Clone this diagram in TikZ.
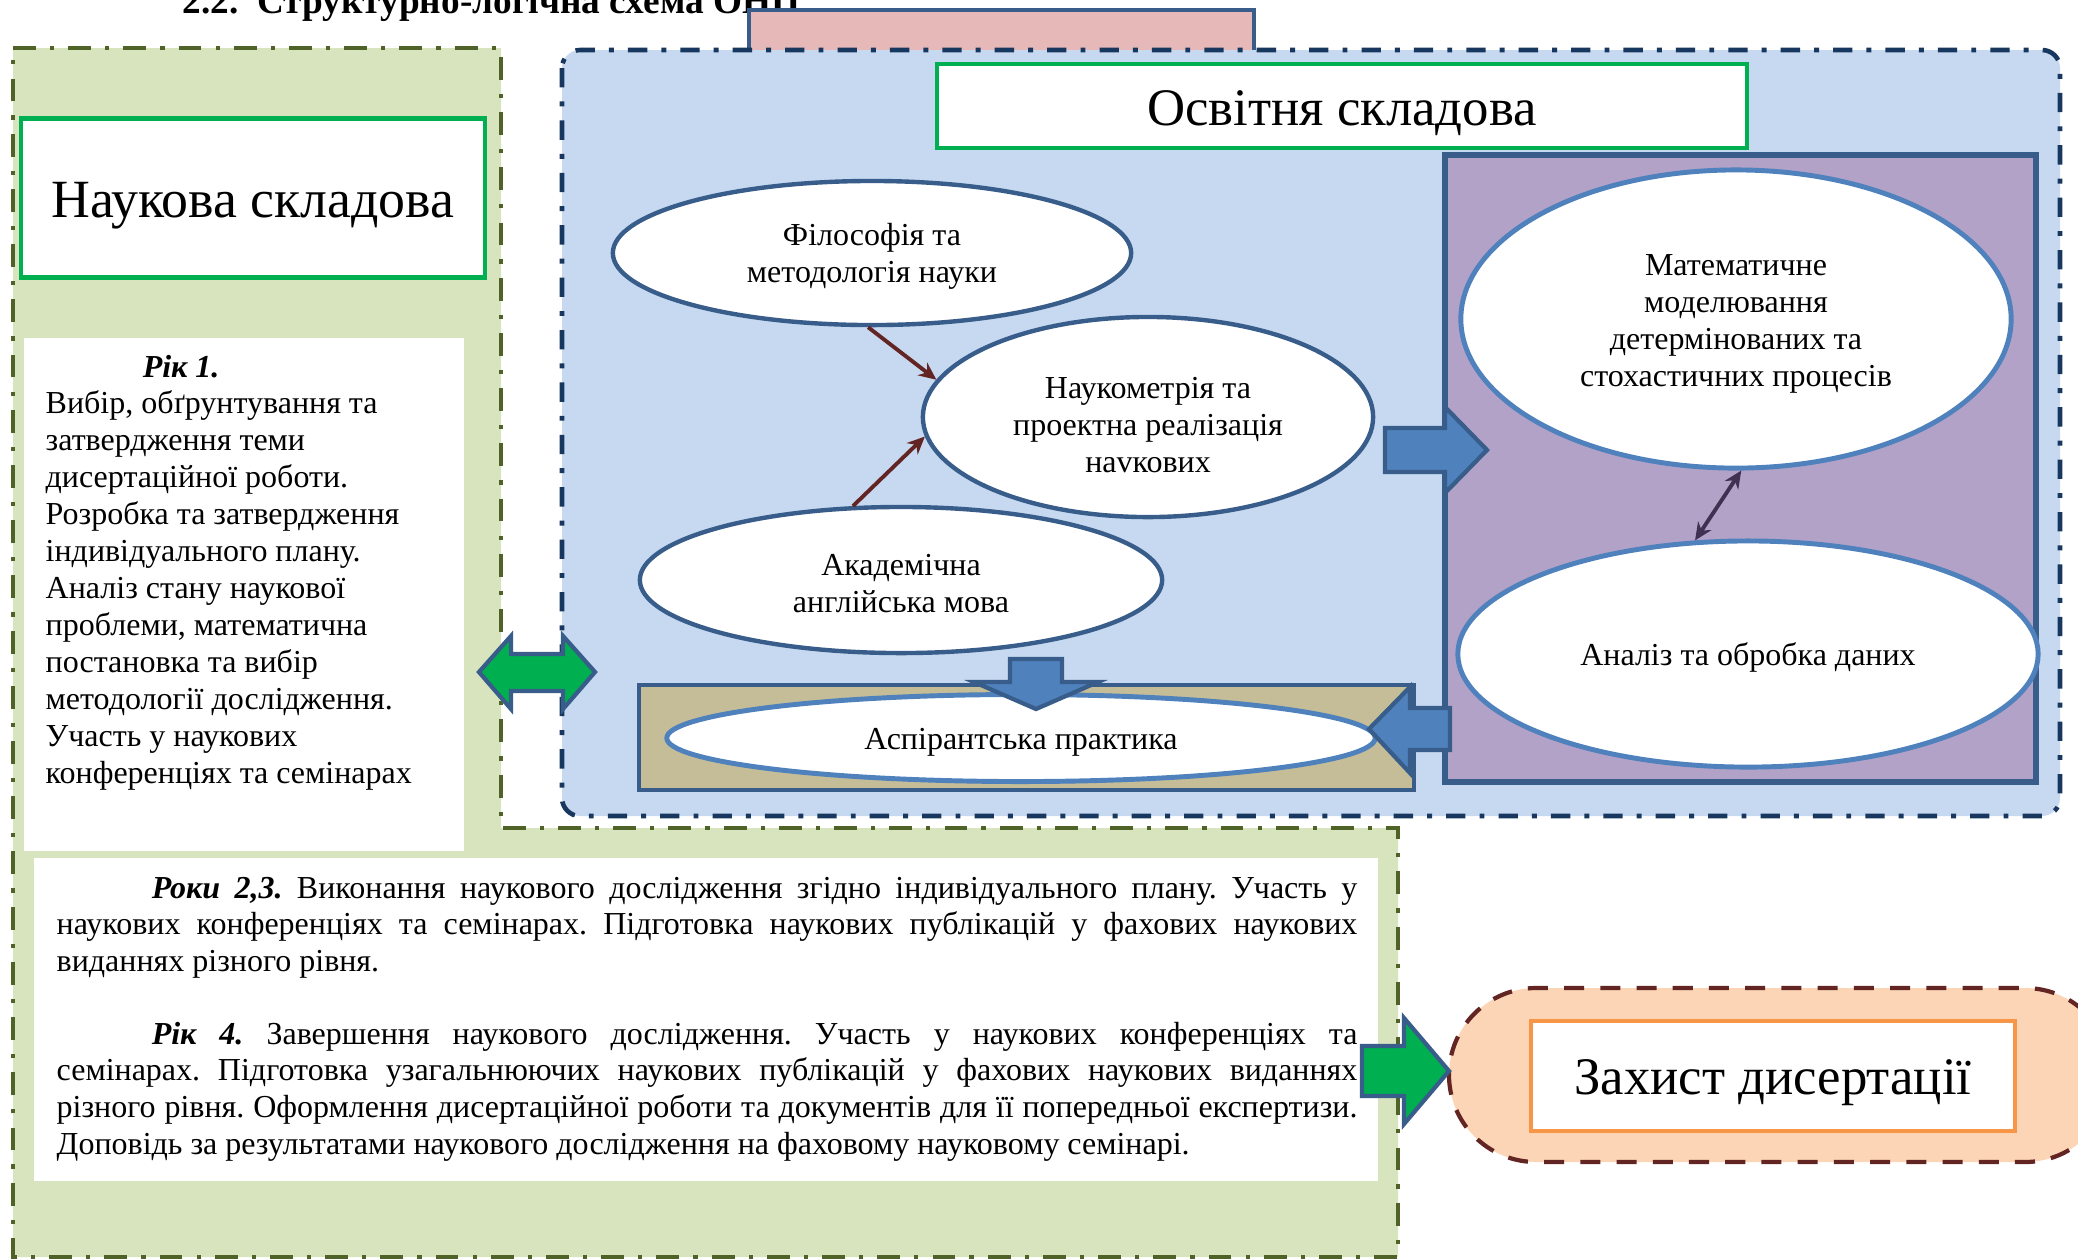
\documentclass[tikz,border=0pt]{standalone}
\usepackage{fontspec}
\setmainfont{Liberation Serif}
\usetikzlibrary{shapes.geometric,arrows.meta}
\definecolor{gfill}{HTML}{D7E4BD}
\definecolor{gline}{HTML}{4F6228}
\definecolor{bfill}{HTML}{C6D9F1}
\definecolor{bline}{HTML}{17375E}
\definecolor{pinkf}{HTML}{E6B9B8}
\definecolor{navy}{HTML}{385D8A}
\definecolor{midb}{HTML}{4F81BD}
\definecolor{grn}{HTML}{00B050}
\definecolor{purp}{HTML}{B3A2C7}
\definecolor{tanf}{HTML}{C4BD97}
\definecolor{peach}{HTML}{FBD5B5}
\definecolor{dred}{HTML}{632523}
\definecolor{orng}{HTML}{F79646}
\definecolor{dpurp}{HTML}{403152}
\frenchspacing
\begin{document}
\begin{tikzpicture}[x=0.01cm,y=-0.01cm,
  bodyfont/.style={font=\fontsize{9.1pt}{10.5pt}\selectfont},
  oval/.style={ellipse, draw=navy, line width=1.25pt, fill=white, inner sep=0pt},
  ovalb/.style={oval, draw=midb, line width=1.4pt},
  otext/.style={inner sep=0pt, align=center, bodyfont},
  bigbox/.style={draw=grn, line width=1.2pt, fill=white, inner sep=0pt},
  bigtext/.style={inner sep=0pt, font=\fontsize{15pt}{18pt}\selectfont},
  blockarrow/.style={fill=midb, draw=navy, line width=1.2pt, line join=miter},
  greenarrow/.style={fill=grn, draw=navy, line width=1.2pt, line join=miter},
  redarrow/.style={draw=dred, line width=1.1pt, -{Stealth[length=5pt,width=4.5pt]}},
  duoarrow/.style={draw=dpurp, line width=1.1pt, {Stealth[length=5pt,width=4.5pt]}-{Stealth[length=5pt,width=4.5pt]}},
  gpanel/.style={draw=gline, fill=gfill, line width=1.15pt, dash pattern=on 6.5pt off 4pt on 1.2pt off 4pt},
  bpanel/.style={draw=bline, fill=bfill, line width=1.3pt, dash pattern=on 5.5pt off 4pt on 1.4pt off 4pt, rounded corners=0.18cm}
]
\useasboundingbox (0,0) rectangle (2078,1259);
% left (science) panel
\draw[gpanel] (13,48) -- (501,48) -- (501,828) -- (1398,828) -- (1398,1257) -- (13,1257) -- cycle;
\fill[white] (24,338) rectangle (464,851);
\fill[white] (34,858) rectangle (1378,1181);
% title (cut at top, as in the reference)
\node[anchor=base west, inner sep=0pt, font=\bfseries\fontsize{10.6pt}{12pt}\selectfont] (title) at (182,13) {2.2.\enspace Структурно-логічна схема ОНП};
% pink tab
\fill[pinkf] (749,10) rectangle (1254,50);
\draw[navy, line width=1.2pt] (749,50) -- (749,10) -- (1254,10) -- (1254,50);
% education panel
\draw[bpanel] (562,50) rectangle (2060,816);
\node[bigbox, minimum width=8.09cm, minimum height=0.84cm] (osv) at (1342,106) {};
\node[bigtext] (osvt) at (1342,113) {Освітня складова};
\node[bigbox, minimum width=4.64cm, minimum height=1.59cm] (nauka) at (253,198) {};
\node[bigtext, font=\fontsize{15.3pt}{18pt}\selectfont] (naukat) at (253,206) {Наукова складова};
% purple box
\draw[fill=purp, draw=navy, line width=1.5pt] (1445,155) rectangle (2036,782);
% ovals
\node[oval, minimum width=5.18cm, minimum height=1.44cm] (fil) at (872,253) {};
\node[otext] (filt) at (872,256) {Філософія та\\методологія науки};
\node[oval, minimum width=4.5cm, minimum height=2.0cm] (nauk) at (1148,417) {};
\node[otext] (naukt) at (1148,425) {Наукометрія та\\проектна реалізація\\наvкових};
\node[oval, minimum width=5.22cm, minimum height=1.46cm] (akad) at (901,580) {};
\node[otext] (akadt) at (901,584) {Академічна\\англійська мова};
\node[ovalb, minimum width=5.5cm, minimum height=2.98cm] (mat) at (1736,319) {};
\node[otext] (matt) at (1736,324) {Математичне\\моделювання\\детермінованих та\\стохастичних процесів};
\node[ovalb, minimum width=5.8cm, minimum height=2.26cm] (anal) at (1748,654) {};
\node[otext] (analt) at (1748,657) {Аналіз та обробка даних};
% practice
\draw[fill=tanf, draw=navy, line width=1.4pt] (639,685) rectangle (1414,790);
\node[ovalb, minimum width=7.08cm, minimum height=0.87cm] (asp) at (1021,738) {};
\node[otext] (aspt) at (1021,742) {Аспірантська практика};
% thin arrows
\draw[redarrow] (fil.-93) -- (nauk.170);
\draw[redarrow] (akad.123) -- (nauk.185);
\draw[duoarrow] (mat.-88) -- (anal.115);
% block arrows
\draw[blockarrow] (1010,659) -- (1062,659) -- (1062,682) -- (1098,682) -- (1036,709) -- (974,682) -- (1010,682) -- cycle;
\draw[blockarrow] (1450,708) -- (1410,708) -- (1410,687) -- (1369,729) -- (1410,773) -- (1410,750) -- (1450,750) -- cycle;
\draw[blockarrow] (1385,428) -- (1445,428) -- (1445,407) -- (1487,450) -- (1445,493) -- (1445,472) -- (1385,472) -- cycle;
\draw[greenarrow] (479,672) -- (511,636) -- (511,654) -- (563,654) -- (563,636) -- (595,672) -- (563,709) -- (563,691) -- (511,691) -- (511,709) -- cycle;
% texts
\node[anchor=base west, inner sep=0pt, bodyfont] (y1) at (45,377) {\parbox[t]{4.15cm}{\raggedright\hspace*{0.97cm}\textbf{\textit{Рік 1.}}\\
Вибір, обґрунтування та\\
затвердження теми\\
дисертаційної роботи.\\
Розробка та затвердження\\
індивідуального плану.\\
Аналіз стану наукової\\
проблеми, математична\\
постановка та вибір\\
методології дослідження.\\
Участь у наукових\\
конференціях та семінарах}};
\node[anchor=base west, inner sep=0pt, font=\fontsize{9.1pt}{10.4pt}\selectfont] (y234) at (56,898) {\parbox[t]{13cm}{\setlength{\parindent}{0.95cm}\indent\textbf{\textit{Роки 2,3.}} Виконання наукового дослідження згідно індивідуального плану. Участь у\linebreak
наукових конференціях та семінарах. Підготовка наукових публікацій у фахових наукових\linebreak
виданнях різного рівня.\par\vspace{\baselineskip}
\indent\textbf{\textit{Рік 4.}} Завершення наукового дослідження. Участь у наукових конференціях та\linebreak
семінарах. Підготовка узагальнюючих наукових публікацій у фахових наукових виданнях\linebreak
різного рівня. Оформлення дисертаційної роботи та документів для її попередньої експертизи.\linebreak
Доповідь за результатами наукового дослідження на фаховому науковому семінарі.}};
% defence
\draw[fill=peach, draw=dred, line width=1.2pt, dash pattern=on 5.7pt off 4.6pt, rounded corners=0.87cm] (1449,988) rectangle (2112,1162);
\node[draw=orng, line width=1.2pt, fill=white, minimum width=4.84cm, minimum height=1.1cm] (zah) at (1773,1076) {};
\node[bigtext] (zaht) at (1773,1083) {Захист дисертації};
\draw[greenarrow] (1362,1046) -- (1404,1046) -- (1404,1018) -- (1449,1071) -- (1404,1124) -- (1404,1096) -- (1362,1096) -- cycle;
\end{tikzpicture}
\end{document}
